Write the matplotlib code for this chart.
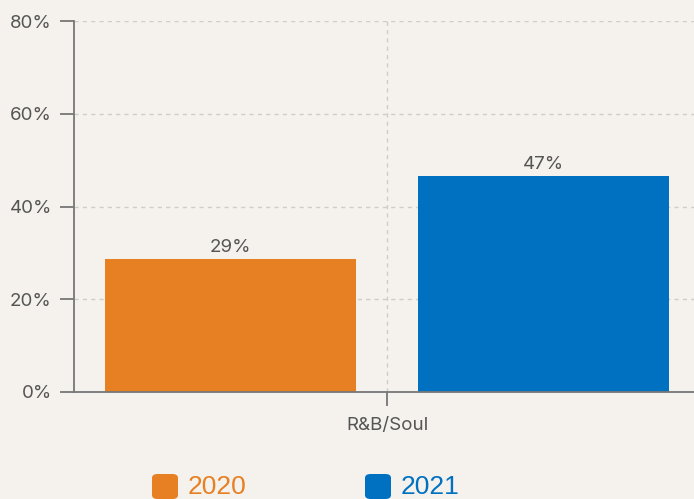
import matplotlib.pyplot as plt
from matplotlib.patches import FancyBboxPatch

categories = ['R&B/Soul']
years = ['2020', '2021']
values_2020 = [28.7]
values_2021 = [46.6]
yticks = [0, 20, 40, 60, 80]

bg = '#f5f2ed'
colors = ['#e68023', '#0070c0']
grey = '#555555'

plt.rcParams['font.family'] = ['Inter', 'DejaVu Sans']

fig = plt.figure(figsize=(6.94, 4.99), dpi=100, facecolor=bg)
ax = fig.add_axes([74 / 694, 107 / 499, 626 / 694, 371 / 499])
ax.set_facecolor(bg)

x = list(range(len(categories)))
width = 0.4
for i, (vals, col) in enumerate(zip([values_2020, values_2021], colors)):
    off = -0.25 if i == 0 else 0.25
    bars = ax.bar([xx + off for xx in x], vals, width=width, color=col, zorder=3)
    for b, v in zip(bars, vals):
        ax.text(b.get_x() + b.get_width() / 2, v + 0.6, '{:.0f}%'.format(v),
                ha='center', va='bottom', fontsize=13.5, color=grey, zorder=4)

ax.set_xlim(-0.5, 0.5)
ax.set_ylim(0, 80)
ax.set_yticks(yticks)
ax.set_yticklabels(['{}%'.format(t) for t in yticks])
ax.set_xticks(x)
ax.set_xticklabels(categories)

ax.grid(True, color='#d0cdc8', linestyle=(0, (3, 3)), linewidth=1, zorder=0)
for s in ['top', 'right']:
    ax.spines[s].set_visible(False)
for s in ['left', 'bottom']:
    ax.spines[s].set_color('#777777')
    ax.spines[s].set_linewidth(1.3)
    ax.spines[s].set_zorder(5)
ax.tick_params(axis='both', colors='#777777', labelcolor=grey, labelsize=13.5,
               length=10, width=1.3, direction='out')
ax.tick_params(axis='y', pad=6)
ax.tick_params(axis='x', pad=8)

# legend at the bottom
leg_x = [152, 365]
for yr, col, lx in zip(years, colors, leg_x):
    p = FancyBboxPatch((lx / 694, 0), 26 / 694, 25 / 499,
                       boxstyle='round,pad=0,rounding_size=0.008',
                       transform=fig.transFigure, facecolor=col, edgecolor='none')
    fig.patches.append(p)
    fig.text((lx + 36) / 694, 12 / 499, yr, color=col, fontsize=19,
             family=['Liberation Sans', 'DejaVu Sans'], va='center', ha='left')

fig.savefig('out.png', dpi=100, facecolor=bg)
